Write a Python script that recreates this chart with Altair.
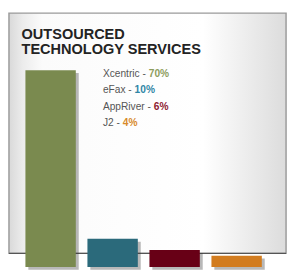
import altair as alt
import pandas as pd

# ---- data ----
companies = ["Xcentric", "eFax", "AppRiver", "J2"]
shares = [70, 10, 6, 4]
bar_colors = ["#7a8a4f", "#2b6a7b", "#680016", "#d27c1f"]
pct_colors = ["#8d9c5c", "#2f86a6", "#8e1a30", "#d88a2a"]
title_lines = ["OUTSOURCED", "TECHNOLOGY SERVICES"]

W, H = 288, 262
LEG_X = 97
LEG_SIZE = 10.5

# approximate Liberation Sans (Arial metric) advance widths, per 1000 em
_adv = {'X': 667, 'c': 500, 'e': 556, 'n': 556, 't': 278, 'r': 333, 'i': 222,
        ' ': 278, '-': 333, 'F': 611, 'a': 556, 'x': 500, 'A': 667, 'p': 556,
        'R': 722, 'v': 500, 'J': 500, '2': 556}


def text_width(s, size):
    return sum(_adv.get(ch, 556) for ch in s) * size / 1000.0


df = pd.DataFrame({"company": companies, "share": shares})

name_labels = [c + " - " for c in companies]
leg = pd.DataFrame({
    "name": name_labels,
    "pct": [f"{s}%" for s in shares],
    "row": list(range(len(companies))),
    "px": [LEG_X + text_width(n, LEG_SIZE) for n in name_labels],
    "company": companies,
})

one = pd.DataFrame({"k": [0]})

xscale = alt.Scale(domain=companies, paddingInner=0.1875, paddingOuter=0.34375, align=0.386)
yscale = alt.Scale(domain=[0, 90.3], nice=False, zero=True)
cscale = alt.Scale(domain=companies, range=bar_colors)
pscale = alt.Scale(domain=companies, range=pct_colors)

gradient = alt.LinearGradient(
    gradient="linear", x1=0, x2=1, y1=0, y2=0,
    stops=[
        alt.GradientStop(color="#d9d9d9", offset=0),
        alt.GradientStop(color="#ececec", offset=0.05),
        alt.GradientStop(color="#fbfbfb", offset=0.12),
        alt.GradientStop(color="#ffffff", offset=0.7),
        alt.GradientStop(color="#dcdcdc", offset=1),
    ],
)

box = alt.Chart(one).mark_rect(color=gradient, stroke="#9a9a9a", strokeWidth=1.5).encode(
    x=alt.value(0), x2=alt.value(286), y=alt.value(0), y2=alt.value(248)
)
base_line = alt.Chart(one).mark_rule(color="#555555", strokeWidth=1.5).encode(
    x=alt.value(0), x2=alt.value(286), y=alt.value(248)
)

shadow = alt.Chart(df).mark_bar(color="#333333", opacity=0.35, xOffset=3, yOffset=3).encode(
    x=alt.X("company:N", sort=None, scale=xscale, axis=None),
    y=alt.Y("share:Q", scale=yscale, axis=None),
)
bars = alt.Chart(df).mark_bar().encode(
    x=alt.X("company:N", sort=None, scale=xscale, axis=None),
    y=alt.Y("share:Q", scale=yscale, axis=None),
    color=alt.Color("company:N", scale=cscale, legend=None),
)

title = alt.Chart(one).mark_text(
    text=title_lines, lineHeight=15, align="left", baseline="alphabetic",
    font="Liberation Sans, Arial, sans-serif",
    fontSize=15, fontWeight="bold", color="#232323",
).encode(x=alt.value(13), y=alt.value(27))

ly = alt.Y("row:Q", scale=alt.Scale(domain=[0, 3], range=[65.5, 117]), axis=None)

names = alt.Chart(leg).mark_text(
    align="left", baseline="alphabetic", font="Liberation Sans, sans-serif",
    fontSize=LEG_SIZE, color="#555555",
).encode(x=alt.value(LEG_X), y=ly, text="name:N")

pcts = alt.Chart(leg).mark_text(
    align="left", baseline="alphabetic", font="Liberation Sans, sans-serif",
    fontSize=LEG_SIZE, fontWeight="bold",
).encode(
    x=alt.X("px:Q", scale=alt.Scale(domain=[0, W], range=[0, W]), axis=None),
    y=ly, text="pct:N",
    color=alt.Color("company:N", scale=pscale, legend=None),
)

chart = alt.layer(box, base_line, shadow, bars, title, names, pcts).resolve_scale(
    x="independent", y="independent", color="independent"
).properties(width=W, height=H, padding=0, background="white").configure_view(strokeWidth=0)

chart.save("out.html", embed_options={"renderer": "svg", "actions": False})
